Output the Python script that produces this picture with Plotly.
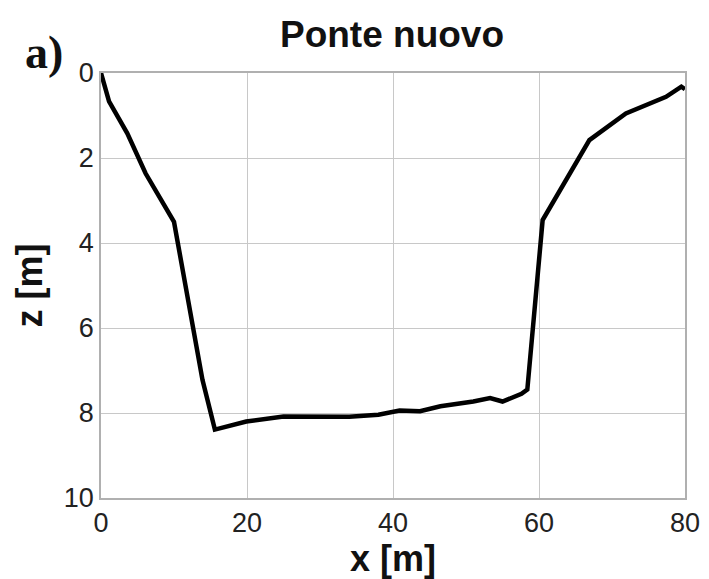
import plotly.graph_objects as go

x_m = [0, 1.1, 3.6, 6.1, 10.0, 11.7, 13.9, 15.6, 19.9, 25.0, 34.0, 38.0, 40.9, 43.7, 46.5, 51.0, 53.3, 55.0, 57.6, 58.4, 60.5, 66.9, 71.9, 77.4, 79.5, 80.0]
z_m = [0, 0.67, 1.42, 2.36, 3.5, 5.18, 7.22, 8.39, 8.2, 8.08, 8.09, 8.04, 7.94, 7.96, 7.84, 7.73, 7.65, 7.73, 7.55, 7.45, 3.46, 1.58, 0.95, 0.56, 0.32, 0.38]

x_ticks = [0, 20, 40, 60, 80]
z_ticks = [0, 2, 4, 6, 8, 10]

FONT = "Arial, Liberation Sans, sans-serif"

fig = go.Figure()
fig.add_trace(go.Scatter(x=x_m, y=z_m, mode="lines",
                         line=dict(color="black", width=4.5), showlegend=False))

axis_common = dict(showgrid=True, gridcolor="#c8c8c8", gridwidth=1,
                   showline=True, linecolor="#b0b0b0", linewidth=1.5, mirror=True,
                   zeroline=False, ticks="",
                   tickfont=dict(family=FONT, size=27, color="#222"))

fig.update_xaxes(range=[0, 80], tickvals=x_ticks, **axis_common,
                 title=dict(text="<b>x [m]</b>", standoff=1,
                            font=dict(family=FONT, size=36, color="#111")))
fig.update_yaxes(range=[10, 0], tickvals=z_ticks, **axis_common,
                 title=dict(text="<b>z [m]</b>", standoff=10,
                            font=dict(family=FONT, size=36, color="#111")))

fig.update_layout(
    width=709, height=579,
    margin=dict(l=93, r=32, t=65, b=89),
    paper_bgcolor="white", plot_bgcolor="white",
    title=dict(text="<b>Ponte nuovo</b>", x=0.5416, xanchor="center", y=0.955, yanchor="middle",
               font=dict(family=FONT, size=37, color="#111")),
    annotations=[dict(text="<b>a)</b>", xref="paper", yref="paper", x=-0.0976, y=1.048,
                      xanchor="center", yanchor="middle", showarrow=False,
                      font=dict(family="Times New Roman, Liberation Serif, serif", size=46, color="#111"))],
)

fig.write_html("out.html")
